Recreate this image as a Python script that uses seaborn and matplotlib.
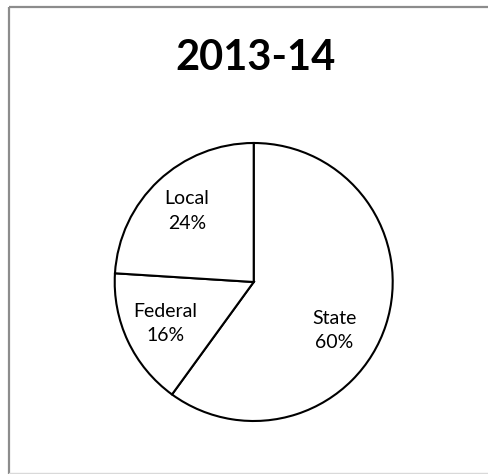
import matplotlib
matplotlib.use("Agg")
import matplotlib.pyplot as plt
import seaborn as sns
from matplotlib.lines import Line2D

# Revenue sources, 2013-14 (percent of total)
title = "2013-14"
sources = ["State", "Federal", "Local"]
shares = [60, 16, 24]

sns.set_theme(style="white")
plt.rcParams["font.family"] = ["Lato", "DejaVu Sans"]

fig = plt.figure(figsize=(4.88, 4.74), dpi=100)
fig.patch.set_facecolor("white")

# Chart frame: darker top/left edges, faint bottom edge
fig.add_artist(Line2D([9 / 488, 9 / 488], [0, 1 - 7 / 474], transform=fig.transFigure,
                      color="#8c8c8c", lw=1.6, solid_capstyle="butt"))
fig.add_artist(Line2D([9 / 488, 1], [1 - 7 / 474, 1 - 7 / 474], transform=fig.transFigure,
                      color="#8c8c8c", lw=1.6, solid_capstyle="butt"))
fig.add_artist(Line2D([9 / 488, 1], [0.6 / 474, 0.6 / 474], transform=fig.transFigure,
                      color="#d9d9d9", lw=1.0))

fig.text(255 / 488, 1 - 58 / 474, title, ha="center", va="center",
         fontsize=30, fontweight="bold", color="black")

# Pie centred at (254, 282) px with radius 139 px
r_px = 139
cx, cy = 253.7, 282
ax = fig.add_axes([(cx - r_px) / 488, (474 - cy - r_px) / 474, 2 * r_px / 488, 2 * r_px / 474])

labels = [f"{s}\n{v}%" for s, v in zip(sources, shares)]
wedges, texts = ax.pie(
    shares,
    labels=labels,
    colors=["white"] * len(shares),
    startangle=90,
    counterclock=False,
    radius=1,
    labeldistance=0.7,
    wedgeprops=dict(edgecolor="black", linewidth=1.5),
    textprops=dict(ha="center", va="center", fontsize=14, color="black", linespacing=1.55),
)
for w in wedges:
    w.set_clip_on(False)

# The large slice's label sits a little lower and further in
texts[0].set_position((0.58, -0.35))

ax.set_xlim(-1, 1)
ax.set_ylim(-1, 1)
ax.set_aspect("equal")
ax.axis("off")

fig.savefig("out.png", dpi=100, facecolor="white")
